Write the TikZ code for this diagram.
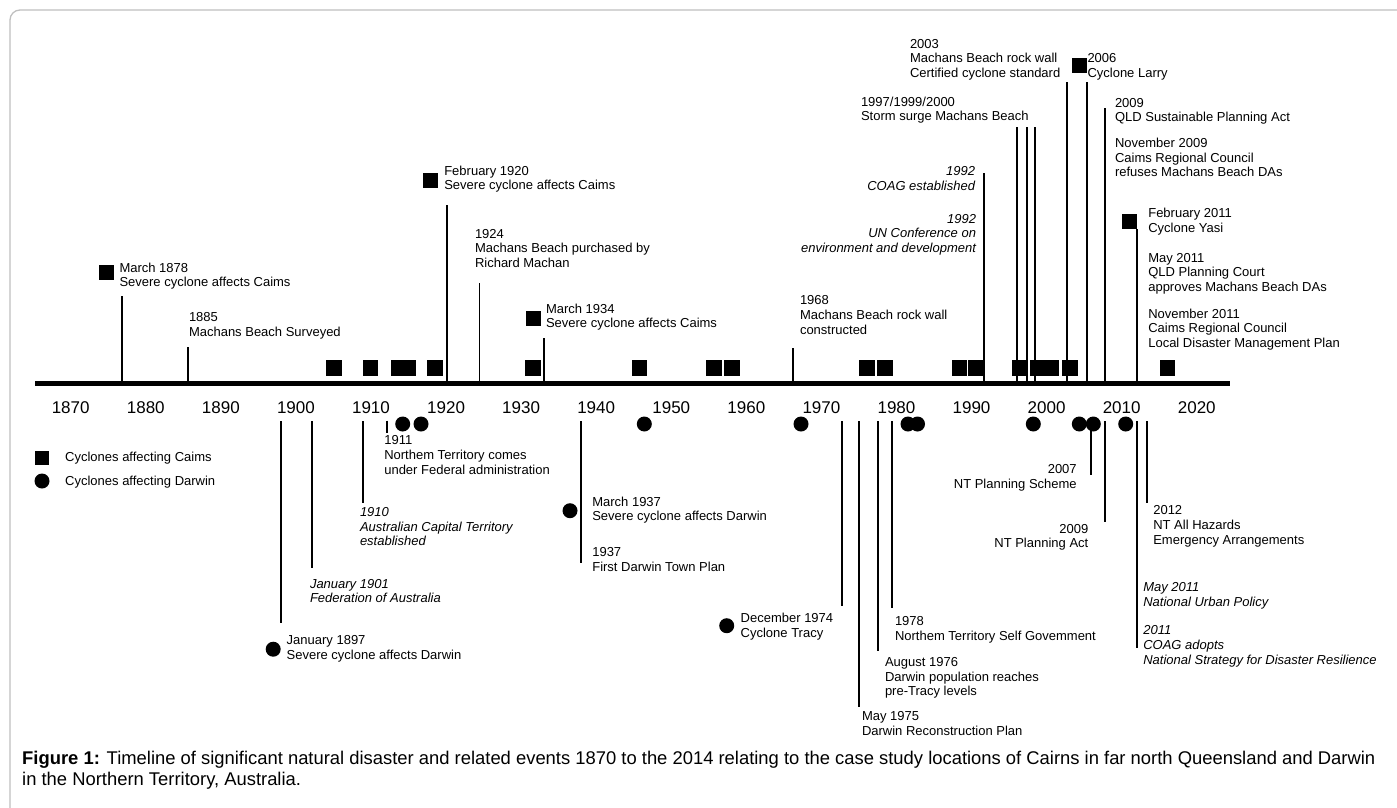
\documentclass[tikz,border=0pt]{standalone}
\usepackage{fontspec}
\setmainfont{Liberation Sans}
\begin{document}
\begin{tikzpicture}[x=1pt,y=-1pt,
 lab/.style={inner sep=0, outer sep=0, font=\fontsize{13}{14.7}\selectfont, align=left, anchor=north west},
 labi/.style={lab, font=\fontsize{13}{14.7}\selectfont\itshape},
 labr/.style={lab, align=right, anchor=north east},
 labri/.style={labr, font=\fontsize{13}{14.7}\selectfont\itshape},
 yr/.style={inner sep=0, font=\fontsize{17}{17}\selectfont, anchor=base},
 sq/.style={rectangle, fill=black, inner sep=0, minimum size=15.5},
 dot/.style={circle, fill=black, inner sep=0, minimum size=15},
 tick/.style={line width=1.8}]
\useasboundingbox (0,0) rectangle (1397,807);
\begin{scope}
\clip (0,0) rectangle (1397,807);
\draw[black!25, line width=1.3, rounded corners=10] (10,10) rectangle (1430,840);
\end{scope}

% axis
\coordinate (axL) at (35,383);
\coordinate (axR) at (1230,383);
\draw[line width=5] (axL) -- (axR);
\foreach \k/\y in {0/1870,1/1880,2/1890,3/1900,4/1910,5/1920,6/1930,7/1940,8/1950,9/1960,10/1970,11/1980,12/1990,13/2000,14/2010,15/2020}
  \node[yr] (y\y) at ({70.7+75.07*\k},413.3) {\y};

% Cairns cyclones on axis
\foreach \x [count=\i] in {333.8,370.5,398.5,408.2,435,533,639.5,714,732,867,884.8,959.5,976.2,1019.5,1037.8,1051.5,1069.8,1167.5}
  \node[sq] (ca\i) at (\x,368) {};
% Darwin cyclones below axis
\foreach \x [count=\i] in {402.7,421,644.3,801,908,917.5,1033.3,1079.3,1093.3,1125.7}
  \node[dot] (da\i) at (\x,424) {};

% ---------- upper events ----------
\node[sq, minimum size=15] (s1878) at (106.8,272.2) {};
\node[lab] (t1878) at (119.5,262.6) {March 1878\\Severe cyclone affects Caims};
\draw[tick] (122.3,381) coordinate (u1a) -- (122.3,296) coordinate (u1b);

\node[lab] (t1885) at (189,312.6) {1885\\Machans Beach Surveyed};
\draw[tick] (188.3,381) coordinate (u2a) -- (188.3,346.7) coordinate (u2b);

\node[sq, minimum size=15] (s1920) at (430.7,180) {};
\node[lab] (t1920) at (444.3,165.6) {February 1920\\Severe cyclone affects Caims};
\draw[tick] (447.3,381) coordinate (u3a) -- (447.3,205) coordinate (u3b);

\node[lab] (t1924) at (475,229) {1924\\Machans Beach purchased by\\Richard Machan};
\draw[tick] (479.5,381) coordinate (u4a) -- (479.5,283.3) coordinate (u4b);

\node[sq, minimum size=15] (s1934) at (533,318) {};
\node[lab] (t1934) at (546,303.6) {March 1934\\Severe cyclone affects Caims};
\draw[tick] (544,381) coordinate (u5a) -- (544,338.3) coordinate (u5b);

\node[lab] (t1968) at (800,295.6) {1968\\Machans Beach rock wall\\constructed};
\draw[tick] (793.3,381) coordinate (u6a) -- (793.3,347.7) coordinate (u6b);

\node[labri] (t1992a) at (975,166.6) {1992\\COAG established};
\node[labri] (t1992b) at (976,214) {1992\\UN Conference on\\environment and development};
\draw[tick] (984,381) coordinate (u7a) -- (984,173.3) coordinate (u7b);

\node[lab] (t1997) at (861,96.6) {1997/1999/2000\\Storm surge Machans Beach};
\foreach \x [count=\i] in {1016.7,1026.7,1035}
  \draw[tick] (\x,381) coordinate (u8a\i) -- (\x,126.7) coordinate (u8b\i);

\node[lab] (t2003) at (910,39) {2003\\Machans Beach rock wall\\Certified cyclone standard};
\draw[tick] (1066.7,381) coordinate (u9a) -- (1066.7,81.7) coordinate (u9b);

\node[sq, minimum size=15] (s2006) at (1079.2,65.2) {};
\node[lab] (t2006) at (1087.5,53.3) {2006\\Cyclone Larry};
\draw[tick] (1086.7,381) coordinate (u10a) -- (1086.7,81.7) coordinate (u10b);

\node[lab] (t2009a) at (1115,98) {2009\\QLD Sustainable Planning Act};
\node[lab] (t2009b) at (1115,138) {November 2009\\Caims Regional Council\\refuses Machans Beach DAs};
\draw[tick] (1105,381) coordinate (u11a) -- (1105,108.3) coordinate (u11b);

\node[sq, minimum size=15] (s2011) at (1129.8,221.5) {};
\node[lab] (t2011a) at (1148.3,208) {February 2011\\Cyclone Yasi};
\node[lab] (t2011b) at (1148.3,253) {May 2011\\QLD Planning Court\\approves Machans Beach DAs};
\node[lab] (t2011c) at (1148.3,308.6) {November 2011\\Caims Regional Council\\Local Disaster Management Plan};
\draw[tick] (1136.7,381) coordinate (u12a) -- (1136.7,229) coordinate (u12b);

% ---------- lower events ----------
\node[dot] (d1897) at (273.2,649.2) {};
\node[lab] (b1897) at (286.7,635.6) {January 1897\\Severe cyclone affects Darwin};
\draw[tick] (280.7,421) coordinate (l1a) -- (280.7,623.3) coordinate (l1b);

\node[labi] (b1901) at (310,579) {January 1901\\Federation of Australia};
\draw[tick] (312.3,421) coordinate (l2a) -- (312.3,568.3) coordinate (l2b);

\node[labi] (b1910) at (360,507.3) {1910\\Australian Capital Territory\\established};
\draw[tick] (363.3,421) coordinate (l3a) -- (363.3,503.3) coordinate (l3b);

\node[lab] (b1911) at (384.3,435.6) {1911\\Northem Territory comes\\under Federal administration};
\draw[tick] (387,420.7) coordinate (l4a) -- (387,433.3) coordinate (l4b);

\node[dot] (d1937) at (570,510.7) {};
\node[lab] (b1937a) at (592.3,496.6) {March 1937\\Severe cyclone affects Darwin};
\node[lab] (b1937b) at (592.3,547.3) {1937\\First Darwin Town Plan};
\draw[tick] (580.7,421) coordinate (l5a) -- (580.7,563.3) coordinate (l5b);

\node[dot] (d1974) at (726.7,625.7) {};
\node[lab] (b1974) at (740.7,613) {December 1974\\Cyclone Tracy};
\draw[tick] (841.7,421) coordinate (l6a) -- (841.7,605.7) coordinate (l6b);

\node[lab] (b1975) at (862,711.6) {May 1975\\Darwin Reconstruction Plan};
\draw[tick] (859.3,421) coordinate (l7a) -- (859.3,706.7) coordinate (l7b);

\node[lab] (b1976) at (885,657.3) {August 1976\\Darwin population reaches\\pre-Tracy levels};
\draw[tick] (877.7,421) coordinate (l8a) -- (877.7,651) coordinate (l8b);

\node[lab] (b1978) at (895,616.3) {1978\\Northem Territory Self Govemment};
\draw[tick] (892.3,421) coordinate (l9a) -- (892.3,608.3) coordinate (l9b);

\node[labr] (b2007) at (1076.7,464.6) {2007\\NT Planning Scheme};
\draw[tick] (1091,421) coordinate (l10a) -- (1091,475) coordinate (l10b);

\node[labr] (b2009) at (1088.3,524) {2009\\NT Planning Act};
\draw[tick] (1105,421) coordinate (l11a) -- (1105,521.7) coordinate (l11b);

\node[labi] (b2011a) at (1143.3,582.3) {May 2011\\National Urban Policy};
\node[labi] (b2011b) at (1143.3,625.6) {2011\\COAG adopts\\National Strategy for Disaster Resilience};
\draw[tick] (1137.3,421) coordinate (l12a) -- (1137.3,648.3) coordinate (l12b);

\node[lab] (b2012) at (1153.3,505.6) {2012\\NT All Hazards\\Emergency Arrangements};
\draw[tick] (1147.3,421) coordinate (l13a) -- (1147.3,503.3) coordinate (l13b);

% legend
\node[sq, minimum size=14] (legsq) at (41.7,457.8) {};
\node[inner sep=0, anchor=base west, font=\fontsize{13}{14.7}\selectfont] (legsqt) at (65,461.7) {Cyclones affecting Caims};
\node[dot] (legdot) at (42,481) {};
\node[inner sep=0, anchor=base west, font=\fontsize{13}{14.7}\selectfont] (legdott) at (65,485.5) {Cyclones affecting Darwin};

% caption
\node[inner sep=0, anchor=north west, align=left, font=\fontsize{18.4}{21}\selectfont] (cap) at (22,750.5)
 {\textbf{Figure 1:} Timeline of significant natural disaster and related events 1870 to the 2014 relating to the case study locations of Cairns in far north Queensland and Darwin\\in the Northern Territory, Australia.};
\end{tikzpicture}
\end{document}
